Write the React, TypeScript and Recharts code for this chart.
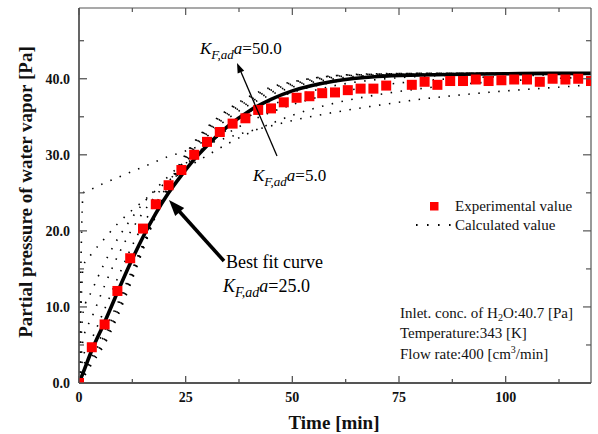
import React from 'react';
import { ComposedChart, Line, Scatter, XAxis, YAxis } from 'recharts';

// ---- data ----
const expTimes = [0, 3, 6, 9, 12, 15, 18, 21, 24, 27, 30, 33, 36, 39, 42, 45, 48, 51, 54, 57, 60, 63, 66, 69, 72, 78, 81, 84, 87, 90, 93, 96, 99, 102, 105, 108, 111, 114, 117, 120];
const expValues = [0, 4.7, 7.7, 12.1, 16.4, 20.3, 23.5, 26.0, 28.0, 30.0, 31.7, 33.0, 34.1, 34.8, 35.9, 36.1, 36.9, 37.5, 37.7, 38.1, 38.2, 38.5, 38.7, 38.7, 39.1, 39.2, 39.6, 39.2, 39.7, 39.7, 39.9, 39.7, 39.8, 39.9, 39.9, 39.6, 40.0, 39.9, 40.0, 39.7];

const calcTimes = [0, 1, 3, 6, 9, 12, 15, 18, 21, 24, 27, 30, 35, 40, 45, 50, 60, 70, 80, 90, 100, 110, 120];
const bestFit = [0, 1.4, 4.3, 8.0, 11.9, 15.7, 19.2, 22.3, 25.0, 27.3, 29.4, 31.2, 33.8, 35.8, 37.3, 38.4, 39.7, 40.3, 40.5, 40.6, 40.65, 40.7, 40.7];
const calcK5 = [0, 25.0, 25.5, 26.3, 27.0, 27.7, 28.4, 29.1, 29.8, 30.3, 30.9, 31.4, 32.3, 33.1, 33.8, 34.5, 35.6, 36.5, 37.3, 37.9, 38.4, 38.8, 39.2];
const calcK10 = [0, 15.4, 17.0, 19.0, 20.9, 22.5, 23.9, 25.3, 26.6, 27.8, 28.9, 29.9, 31.5, 32.9, 34.1, 35.2, 36.8, 37.9, 38.7, 39.3, 39.7, 40.0, 40.2];
const calcK15 = [0, 9.4, 12.1, 15.8, 18.9, 21.4, 23.6, 25.5, 27.2, 28.7, 30.0, 31.2, 32.9, 34.4, 35.6, 36.6, 38.1, 39.1, 39.7, 40.1, 40.3, 40.5, 40.6];
const calcK20 = [0, 5.8, 8.6, 12.8, 16.6, 19.8, 22.4, 24.6, 26.6, 28.3, 29.9, 31.3, 33.4, 35.1, 36.5, 37.6, 39.1, 39.9, 40.3, 40.5, 40.6, 40.65, 40.7];
const calcK25 = [0, 3.5, 5.8, 9.7, 13.7, 17.5, 20.8, 23.6, 26.0, 28.0, 29.8, 31.4, 33.8, 35.7, 37.1, 38.2, 39.6, 40.3, 40.5, 40.6, 40.7, 40.7, 40.7];
const calcK30 = [0, 2.2, 4.0, 6.9, 10.4, 14.3, 18.3, 22.0, 25.3, 28.1, 30.5, 32.4, 34.8, 36.6, 37.9, 38.9, 40.0, 40.5, 40.6, 40.7, 40.7, 40.7, 40.7];
const calcK35 = [0, 1.6, 3.5, 6.3, 9.9, 13.9, 18.1, 22.1, 25.6, 28.5, 30.9, 32.8, 35.2, 36.9, 38.2, 39.1, 40.2, 40.6, 40.7, 40.7, 40.7, 40.7, 40.7];
const calcK40 = [0, 1.2, 3.1, 5.8, 9.4, 13.5, 17.9, 22.1, 25.8, 28.8, 31.2, 33.1, 35.5, 37.2, 38.5, 39.3, 40.3, 40.6, 40.7, 40.7, 40.7, 40.7, 40.7];
const calcK45 = [0, 0.9, 2.8, 5.4, 9.0, 13.2, 17.7, 22.1, 25.9, 29.0, 31.5, 33.4, 35.8, 37.5, 38.7, 39.5, 40.4, 40.6, 40.7, 40.7, 40.7, 40.7, 40.7];
const calcK50 = [0, 0.7, 2.5, 5.1, 8.7, 12.9, 17.5, 22.0, 26.0, 29.2, 31.7, 33.6, 36.0, 37.7, 38.9, 39.6, 40.4, 40.65, 40.7, 40.7, 40.7, 40.7, 40.7];

const xTicks = [0, 12.5, 25, 37.5, 50, 62.5, 75, 87.5, 100, 112.5];
const xMajor = [0, 25, 50, 75, 100];
const yTicks = [0, 5, 10, 15, 20, 25, 30, 35, 40, 45];
const yMajor = [0, 10, 20, 30, 40];

const toSeries = (ts: number[], vs: number[]) => ts.map((t, i) => ({ t, v: vs[i] }));
const expData = toSeries(expTimes, expValues);
const bestData = toSeries(calcTimes, bestFit);
const calcSets = [calcK5, calcK10, calcK15, calcK20, calcK25, calcK30, calcK35, calcK40, calcK45, calcK50].map((vs) => toSeries(calcTimes, vs));

const SERIF = '"Liberation Serif", "Times New Roman", Times, serif';
const AX = '#555';

const XTick = (props: any) => {
  const { x, y, payload } = props;
  const major = xMajor.includes(payload.value);
  return (
    <g>
      <line x1={x} y1={y} x2={x} y2={y - (major ? 7 : 4)} stroke={AX} strokeWidth={1.3} />
      {major && (
        <text x={x} y={y + 19} textAnchor="middle" fontFamily={SERIF} fontWeight="bold" fontSize={14} fill="#111">
          {payload.value}
        </text>
      )}
    </g>
  );
};
const XTopTick = (props: any) => {
  const { x, y, payload } = props;
  const major = xMajor.includes(payload.value);
  return <line x1={x} y1={y} x2={x} y2={y + (major ? 7 : 4)} stroke={AX} strokeWidth={1.2} />;
};
const YTick = (props: any) => {
  const { x, y, payload } = props;
  const major = yMajor.includes(payload.value);
  return (
    <g>
      <line x1={x} y1={y} x2={x + (major ? 8 : 5)} y2={y} stroke={AX} strokeWidth={1.3} />
      {major && (
        <text x={x - 9} y={y + 5} textAnchor="end" fontFamily={SERIF} fontWeight="bold" fontSize={14} fill="#111">
          {payload.value.toFixed(1)}
        </text>
      )}
    </g>
  );
};
const YRightTick = (props: any) => {
  const { x, y, payload } = props;
  const major = yMajor.includes(payload.value);
  return <line x1={x} y1={y} x2={x - (major ? 8 : 5)} y2={y} stroke={AX} strokeWidth={1.2} />;
};

const RedSquare = (props: any) => {
  const { cx, cy } = props;
  if (cx == null || cy == null) return null;
  return <rect x={cx - 5} y={cy - 5} width={10} height={10} fill="#ff0000" />;
};

const KLabel = ({ x, y, size, sub, value }: { x: number; y: number; size: number; sub: number; value: string }) => (
  <text x={x} y={y} fontFamily={SERIF} fontSize={size} fill="#000">
    <tspan fontStyle="italic">K</tspan>
    <tspan fontStyle="italic" fontSize={sub} dy={5}>F,ad</tspan>
    <tspan fontStyle="italic" dy={-5}>a</tspan>
    <tspan>={value}</tspan>
  </text>
);

export default function App() {
  return (
    <div style={{ position: 'relative', width: 598, height: 434, background: '#fff' }}>
      <style>{`html,body{margin:0;padding:0;overflow:hidden;background:#fff}`}</style>
      <ComposedChart width={598} height={434} margin={{ top: 7, right: 6, bottom: 50, left: 78 }}>
        <XAxis
          xAxisId="b"
          type="number"
          dataKey="t"
          domain={[0, 120]}
          allowDataOverflow
          ticks={xTicks}
          interval={0}
          height={1}
          tickSize={0}
          tickMargin={0}
          tickLine={false}
          axisLine={{ stroke: AX, strokeWidth: 1.8 }}
          tick={<XTick />}
        />
        <XAxis
          xAxisId="top"
          orientation="top"
          type="number"
          dataKey="t"
          domain={[0, 120]}
          allowDataOverflow
          ticks={xTicks}
          interval={0}
          height={1}
          tickSize={0}
          tickMargin={0}
          tickLine={false}
          axisLine={{ stroke: AX, strokeWidth: 1.2 }}
          tick={<XTopTick />}
        />
        <YAxis
          yAxisId="l"
          type="number"
          domain={[0, 49.3]}
          allowDataOverflow
          ticks={yTicks}
          interval={0}
          width={1}
          tickSize={0}
          tickMargin={0}
          tickLine={false}
          axisLine={{ stroke: AX, strokeWidth: 1.8 }}
          tick={<YTick />}
        />
        <YAxis
          yAxisId="r"
          orientation="right"
          type="number"
          domain={[0, 49.3]}
          allowDataOverflow
          ticks={yTicks}
          interval={0}
          width={1}
          tickSize={0}
          tickMargin={0}
          tickLine={false}
          axisLine={{ stroke: AX, strokeWidth: 1.2 }}
          tick={<YRightTick />}
        />
        {calcSets.map((d, i) => (
          <Line
            key={'k' + i}
            xAxisId="b"
            yAxisId="l"
            data={d}
            dataKey="v"
            type="monotone"
            stroke="#000"
            strokeWidth={1.6}
            strokeDasharray="1.5 8.5"
            dot={false}
            activeDot={false}
            isAnimationActive={false}
          />
        ))}
        <Line
          xAxisId="b"
          yAxisId="l"
          data={bestData}
          dataKey="v"
          type="monotone"
          stroke="#000"
          strokeWidth={3.6}
          dot={false}
          activeDot={false}
          isAnimationActive={false}
        />
        <Scatter xAxisId="b" yAxisId="l" data={expData} dataKey="v" shape={<RedSquare />} isAnimationActive={false} />
      </ComposedChart>
      <svg width={598} height={434} style={{ position: 'absolute', left: 0, top: 0, pointerEvents: 'none' }}>
        <text transform="translate(32,192) rotate(-90)" textAnchor="middle" fontFamily={SERIF} fontWeight="bold" fontSize={19} fill="#111">
          Partial pressure of water vapor [Pa]
        </text>
        <text x={334} y={429} textAnchor="middle" fontFamily={SERIF} fontWeight="bold" fontSize={19} fill="#111">
          Time [min]
        </text>

        <rect x={430} y={202} width={8.5} height={8.5} fill="#ff0000" />
        <text x={455} y={211} fontFamily={SERIF} fontSize={15} fill="#111">Experimental value</text>
        <line x1={416} y1={225} x2={452} y2={225} stroke="#000" strokeWidth={1.8} strokeDasharray="1.6 9.4" />
        <text x={455} y={230} fontFamily={SERIF} fontSize={15} fill="#111">Calculated value</text>

        <KLabel x={200} y={54} size={17} sub={13} value="50.0" />
        <KLabel x={253} y={181} size={17} sub={13} value="5.0" />
        <text x={226} y={268} fontFamily={SERIF} fontSize={18} fill="#000">Best fit curve</text>
        <KLabel x={223} y={292} size={18} sub={14} value="25.0" />

        <text x={400} y={318} fontFamily={SERIF} fontSize={15} fill="#111">
          Inlet. conc. of H<tspan fontSize={10} dy={3}>2</tspan>
          <tspan dy={-3}>O:40.7 [Pa]</tspan>
        </text>
        <text x={400} y={338} fontFamily={SERIF} fontSize={15} fill="#111">Temperature:343 [K]</text>
        <text x={400} y={359} fontFamily={SERIF} fontSize={15} fill="#111">
          Flow rate:400 [cm<tspan fontSize={10} dy={-6}>3</tspan>
          <tspan dy={6}>/min]</tspan>
        </text>

        <line x1={277} y1={156} x2={241} y2={72} stroke="#000" strokeWidth={1.3} />
        <polygon points="237,63 244.2,70.8 237.7,73.6" fill="#000" />
        <line x1={224} y1={261} x2={179} y2={211} stroke="#000" strokeWidth={3.6} />
        <polygon points="169,200 184.2,207.9 175.2,215.9" fill="#000" />
      </svg>
    </div>
  );
}
